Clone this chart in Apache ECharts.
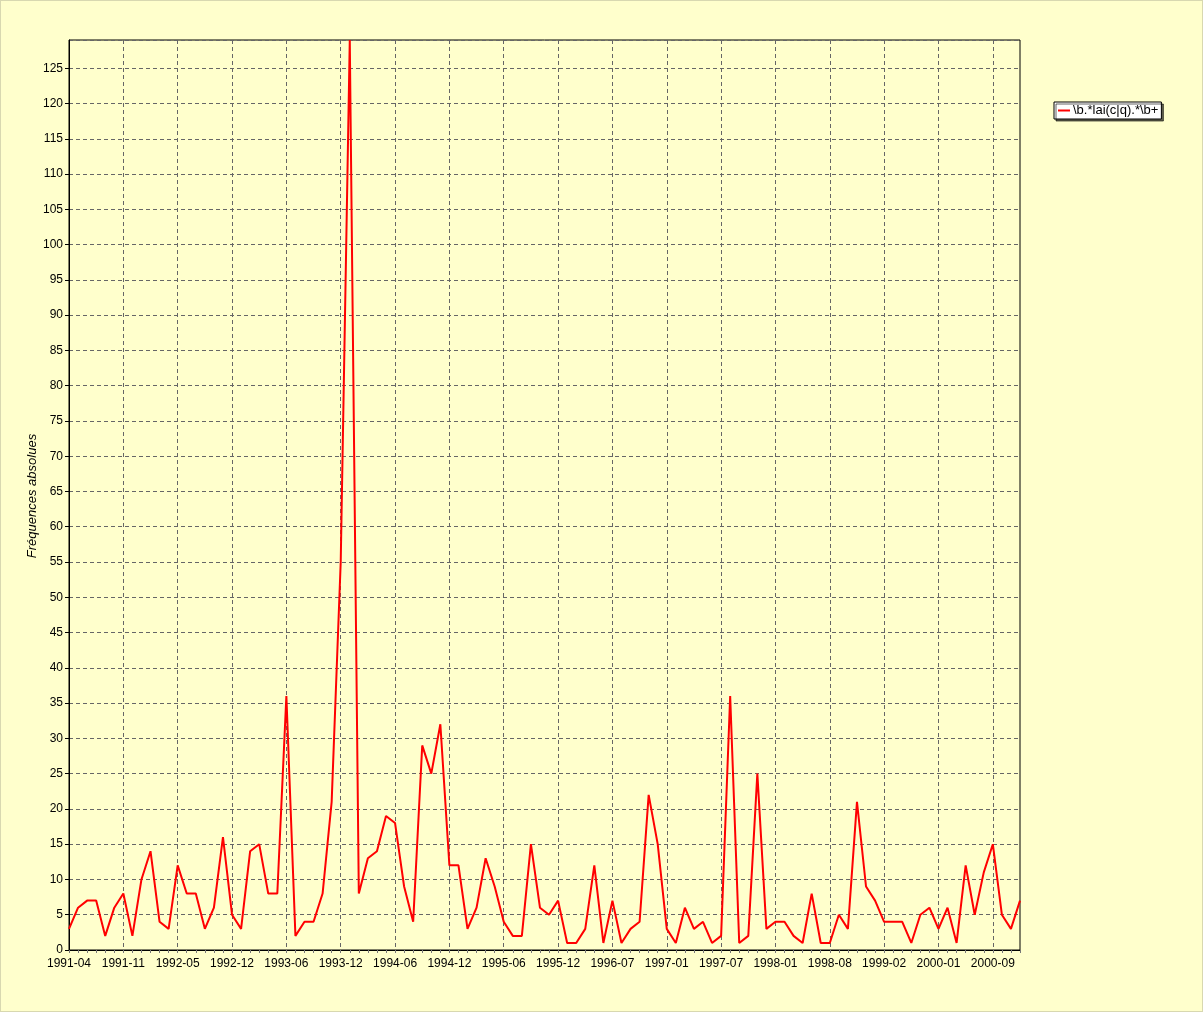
<!DOCTYPE html>
<html>
<head>
<meta charset="utf-8">
<script src="https://cdn.jsdelivr.net/npm/echarts@6/dist/echarts.min.js"></script>
<style>
html,body{margin:0;padding:0;background:#FFFFCC;}
#c{width:1201px;height:1010px;border:1px solid #d8d8b0;}
</style>
</head>
<body>
<div id="c"></div>
<script>
const categories = [
 '1991-04','1991-05','1991-06','1991-07','1991-08','1991-09',
 '1991-11','1991-12','1992-01','1992-02','1992-03','1992-04',
 '1992-05','1992-06','1992-07','1992-09','1992-10','1992-11',
 '1992-12','1993-01','1993-02','1993-03','1993-04','1993-05',
 '1993-06','1993-07','1993-08','1993-09','1993-10','1993-11',
 '1993-12','1994-01','1994-02','1994-03','1994-04','1994-05',
 '1994-06','1994-07','1994-08','1994-09','1994-10','1994-11',
 '1994-12','1995-01','1995-02','1995-03','1995-04','1995-05',
 '1995-06','1995-07','1995-08','1995-09','1995-10','1995-11',
 '1995-12','1996-01','1996-02','1996-03','1996-05','1996-06',
 '1996-07','1996-08','1996-09','1996-10','1996-11','1996-12',
 '1997-01','1997-02','1997-03','1997-04','1997-05','1997-06',
 '1997-07','1997-08','1997-09','1997-10','1997-11','1997-12',
 '1998-01','1998-02','1998-03','1998-04','1998-05','1998-07',
 '1998-08','1998-09','1998-10','1998-11','1998-12','1999-01',
 '1999-02','1999-04','1999-06','1999-08','1999-10','1999-12',
 '2000-01','2000-02','2000-03','2000-05','2000-06','2000-08',
 '2000-09','2000-10','2000-11','2000-12'
];
const seriesName = '\\b.*lai(c|q).*\\b+';
const values = [
 3,6,7,7,2,6,8,2,10,14,
 4,3,12,8,8,3,6,16,5,3,
 14,15,8,8,36,2,4,4,8,21,
 55,129,8,13,14,19,18,9,4,29,
 25,32,12,12,3,6,13,9,4,2,
 2,15,6,5,7,1,1,3,12,1,
 7,1,3,4,22,15,3,1,6,3,
 4,1,2,36,1,2,25,3,4,4,
 2,1,8,1,1,5,3,21,9,7,
 4,4,4,1,5,6,3,6,1,12,
 5,11,15,5,3,7
];
const yAxisTitle = 'Fréquences absolues';

const chart = echarts.init(document.getElementById('c'), null, {renderer:'canvas'});
const font = 'Liberation Sans, Arial, sans-serif';
chart.setOption({
  backgroundColor: '#FFFFCC',
  animation: false,
  grid: {left: 68, right: 182, top: 39, bottom: 61, show: true, borderColor: '#000', borderWidth: 1, backgroundColor: '#FFFFCC', containLabel: false},
  graphic: [{
    type: 'text', x: 31, y: 495, rotation: Math.PI / 2,
    style: {text: yAxisTitle, fontFamily: font, fontSize: 13, fontStyle: 'italic', fill: '#000', align: 'center', verticalAlign: 'middle'}
  }],
  legend: {
    left: 1053, top: 101, orient: 'vertical',
    backgroundColor: '#fff', borderColor: '#000', borderWidth: 1,
    padding: [2, 3, 2, 4], itemWidth: 12, itemHeight: 2, itemGap: 2,
    shadowColor: 'rgba(0,0,0,0.6)', shadowOffsetX: 2, shadowOffsetY: 2, shadowBlur: 0,
    icon: 'rect',
    textStyle: {fontFamily: font, fontSize: 13, color: '#000', padding: [0,0,0,-2]},
    data: [seriesName]
  },
  xAxis: {
    type: 'category', data: categories, boundaryGap: false,
    axisLine: {lineStyle: {color: '#000', width: 1}},
    axisTick: {show: true, interval: 0, length: 3, lineStyle: {color: '#777'}},
    axisLabel: {interval: 5, color: '#000', fontFamily: font, fontSize: 12, margin: 8},
    splitLine: {show: true, interval: 5, lineStyle: {color: '#666', type: [4, 3], width: 1}}
  },
  yAxis: {
    type: 'value', min: 0, max: 129, interval: 5,
    axisLine: {show: true, lineStyle: {color: '#000', width: 1}},
    axisTick: {show: true, length: 4, lineStyle: {color: '#000'}},
    axisLabel: {color: '#000', fontFamily: font, fontSize: 12, margin: 6, showMaxLabel: false},
    splitLine: {show: true, lineStyle: {color: '#666', type: [4, 3], width: 1}}
  },
  series: [{
    name: seriesName, type: 'line', data: values,
    showSymbol: false, symbol: 'none',
    lineStyle: {color: '#FF0000', width: 2},
    itemStyle: {color: '#FF0000'},
    clip: true
  }]
});
</script>
</body>
</html>
